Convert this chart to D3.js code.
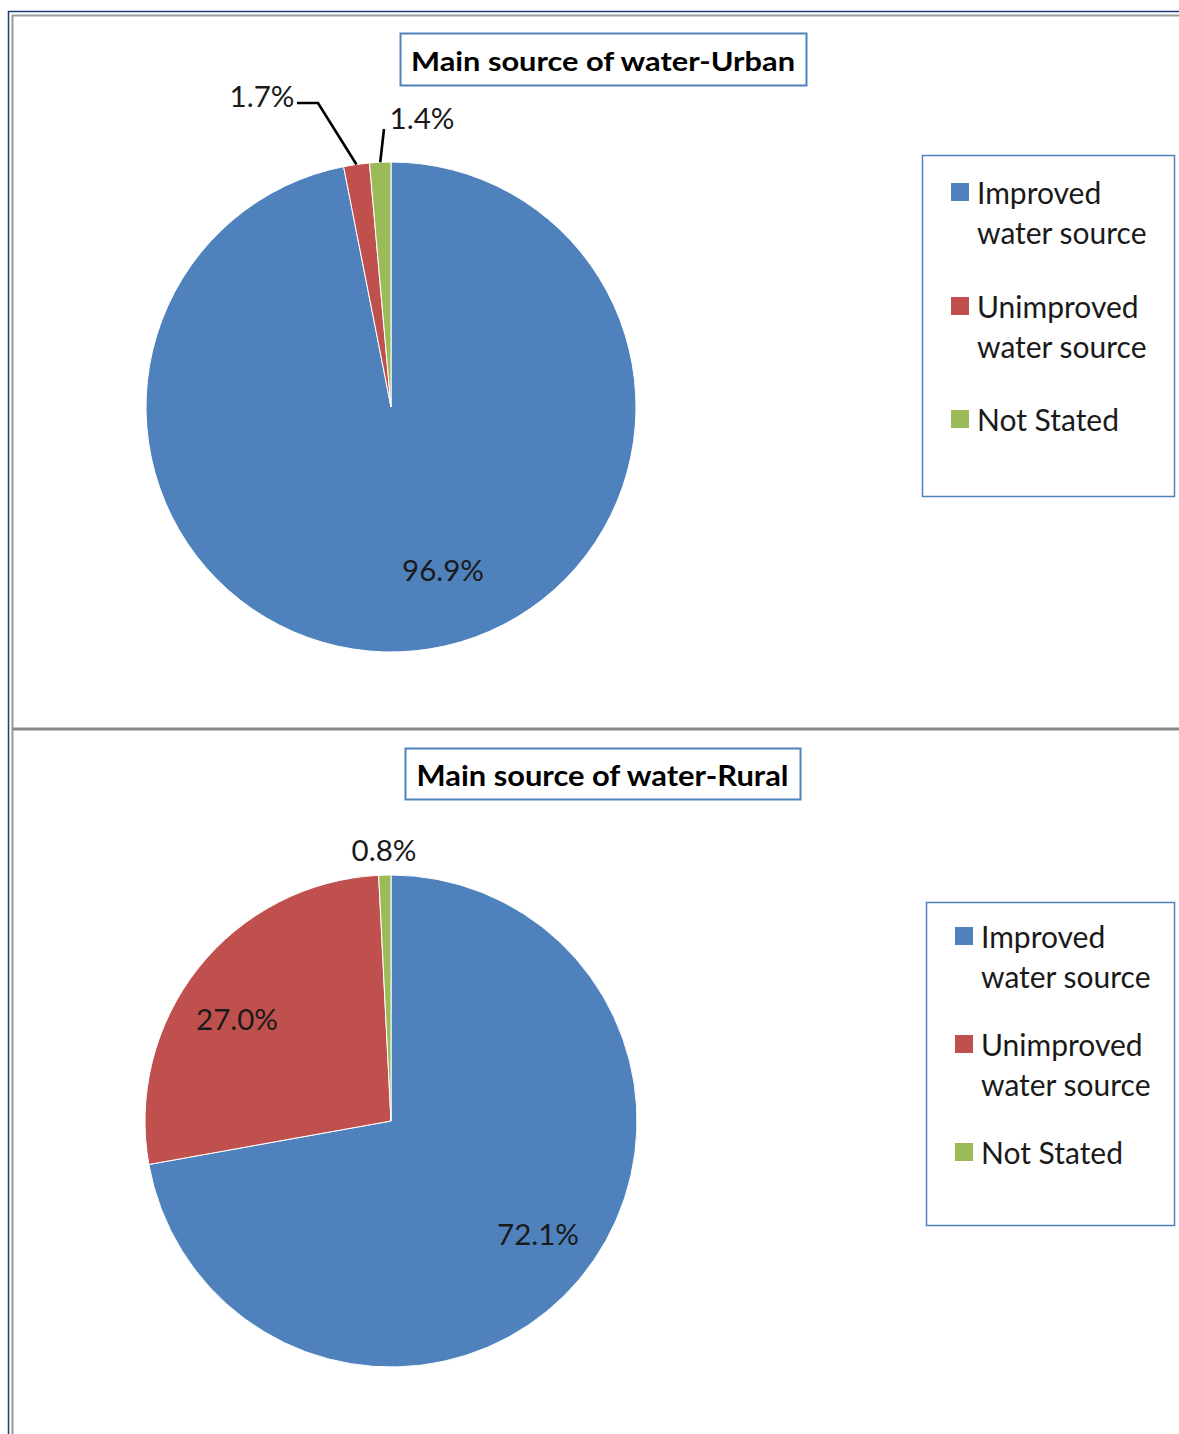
<!DOCTYPE html>
<html><head><meta charset="utf-8">
<script src="https://cdn.jsdelivr.net/npm/d3@7"></script>
<style>body{margin:0;background:#fff}svg{display:block}</style>
</head><body>
<script>
const categories = ["Improved water source", "Unimproved water source", "Not Stated"];
const legendLines = [["Improved", "water source"], ["Unimproved", "water source"], ["Not Stated"]];
const urbanValues = [96.9, 1.7, 1.4];
const ruralValues = [72.1, 27.0, 0.8];
const titles = ["Main source of water-Urban", "Main source of water-Rural"];
const colors = ["#4f81bd", "#c0504d", "#9bbb59"];

const W = 1179, H = 1434;
const svg = d3.select("body").append("svg").attr("width", W).attr("height", H);
const FONT = "Lato, 'Open Sans', sans-serif";

// frame
svg.append("rect").attr("x", 8.5).attr("y", 11.5).attr("width", W + 20).attr("height", H + 20)
  .attr("fill", "none").attr("stroke", "#1f3a7a").attr("stroke-width", 1.5);
svg.append("rect").attr("x", 12.5).attr("y", 15.5).attr("width", W + 20).attr("height", H + 20)
  .attr("fill", "none").attr("stroke", "#9a9a9a").attr("stroke-width", 2);
svg.append("line").attr("x1", 12).attr("x2", W).attr("y1", 729).attr("y2", 729)
  .attr("stroke", "#8a8a8a").attr("stroke-width", 3);

const charts = [
  {values: urbanValues, title: titles[0], cx: 391, cy: 407, r: 245,
   titleBox: [400, 33, 406, 52], titleLen: 384, titleSize: 27,
   legendBox: [922, 155, 252, 341], legendRows: [192, 306, 419], lineGap: 40,
   labels: [
     {i: 0, dx: 52, dy: 162},
     {i: 1, dx: -129, dy: -312, leader: [[-94, -304], [-73, -304]]},
     {i: 2, dx: 31, dy: -290, leader: [[-7, -278]]}
   ]},
  {values: ruralValues, title: titles[1], cx: 391, cy: 1121, r: 246,
   titleBox: [405, 748, 395, 51], titleLen: 372, titleSize: 28,
   legendBox: [926, 902, 248, 323], legendRows: [936, 1044, 1152], lineGap: 40,
   labels: [
     {i: 0, dx: 147, dy: 112},
     {i: 1, dx: -154, dy: -103},
     {i: 2, dx: -7, dy: -272}
   ]}
];

const pie = d3.pie().sort(null).value(d => d);

charts.forEach(c => {
  const g = svg.append("g");
  const arcs = pie(c.values);
  const arc = d3.arc().innerRadius(0).outerRadius(c.r);
  const pg = g.append("g").attr("transform", `translate(${c.cx},${c.cy})`);
  pg.selectAll("path").data(arcs).join("path")
    .attr("d", arc).attr("fill", (d, i) => colors[i])
    .attr("stroke", "#fff").attr("stroke-width", 1);

  // labels
  c.labels.forEach(l => {
    const a = arcs[l.i];
    if (l.leader) {
      const mid = (a.startAngle + a.endAngle) / 2;
      const ex = Math.sin(mid) * c.r, ey = -Math.cos(mid) * c.r;
      const pts = l.leader.concat([[ex, ey]]);
      pg.append("path").attr("d", d3.line()(pts))
        .attr("fill", "none").attr("stroke", "#000").attr("stroke-width", 2.6);
    }
    pg.append("text").attr("x", l.dx).attr("y", l.dy)
      .attr("text-anchor", "middle").attr("dominant-baseline", "central")
      .attr("font-family", FONT).attr("font-size", 29.5).attr("fill", "#1a1a1a")
      .text(d3.format(".1f")(c.values[l.i]) + "%");
  });

  // title box
  const [tx, ty, tw, th] = c.titleBox;
  g.append("rect").attr("x", tx + 0.5).attr("y", ty + 0.5).attr("width", tw).attr("height", th)
    .attr("fill", "#fff").attr("stroke", "#4f81bd").attr("stroke-width", 2);
  g.append("text").attr("x", tx + tw / 2).attr("y", ty + th / 2 + 1)
    .attr("text-anchor", "middle").attr("dominant-baseline", "central")
    .attr("font-family", FONT).attr("font-weight", "bold").attr("font-size", c.titleSize)
    .attr("textLength", c.titleLen).attr("lengthAdjust", "spacingAndGlyphs")
    .attr("fill", "#000").text(c.title);

  // legend
  const [lx, ly, lw, lh] = c.legendBox;
  g.append("rect").attr("x", lx + 0.5).attr("y", ly + 0.5).attr("width", lw).attr("height", lh)
    .attr("fill", "#fff").attr("stroke", "#4f81bd").attr("stroke-width", 1.5);
  categories.forEach((cat, i) => {
    const y = c.legendRows[i];
    g.append("rect").attr("x", lx + 29).attr("y", y - 9).attr("width", 18).attr("height", 18)
      .attr("fill", colors[i]);
    legendLines[i].forEach((line, j) => {
      g.append("text").attr("x", lx + 55).attr("y", y + j * c.lineGap)
        .attr("dominant-baseline", "central")
        .attr("font-family", FONT).attr("font-size", 30).attr("fill", "#1a1a1a")
        .text(line);
    });
  });
});
</script>
</body></html>
